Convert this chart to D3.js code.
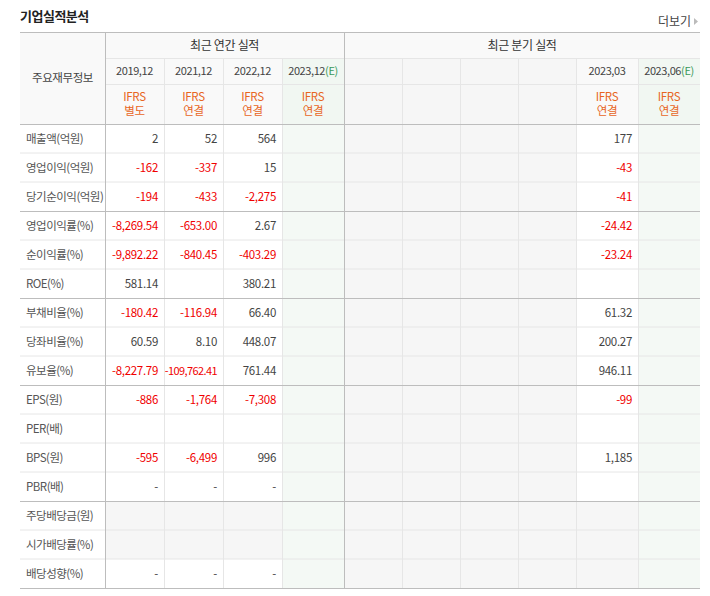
<!DOCTYPE html>
<html><head><meta charset="utf-8">
<script src="https://cdn.jsdelivr.net/npm/d3@7"></script>
<style>body{margin:0;background:#fff;font-family:"Noto Sans CJK KR","Noto Sans",sans-serif}</style>
</head><body><svg id="c" width="710" height="596"></svg>
<script>
const rowLabels=["매출액(억원)","영업이익(억원)","당기순이익(억원)","영업이익률(%)","순이익률(%)","ROE(%)","부채비율(%)","당좌비율(%)","유보율(%)","EPS(원)","PER(배)","BPS(원)","PBR(배)","주당배당금(원)","시가배당률(%)","배당성향(%)"];
const periods=["2019.12","2021.12","2022.12","2023.12(E)","","","","","2023.03","2023.06(E)"];
const accounting=["IFRS\n별도","IFRS\n연결","IFRS\n연결","IFRS\n연결","","","","","IFRS\n연결","IFRS\n연결"];
const v2019=["2","-162","-194","-8,269.54","-9,892.22","581.14","-180.42","60.59","-8,227.79","-886","","-595","-","","","-"];
const v2021=["52","-337","-433","-653.00","-840.45","","-116.94","8.10","-109,762.41","-1,764","","-6,499","-","","","-"];
const v2022=["564","15","-2,275","2.67","-403.29","380.21","66.40","448.07","761.44","-7,308","","996","-","","","-"];
const v2023E=Array(16).fill("");
const vEmpty=Array(16).fill("");
const v202303=["177","-43","-41","-24.42","-23.24","","61.32","200.27","946.11","-99","","1,185","","","",""];
const v202306E=Array(16).fill("");
const colValues=[v2019,v2021,v2022,v2023E,vEmpty,vEmpty,vEmpty,vEmpty,v202303,v202306E];
const colEdges=[20,105,164,223,282,344,402,460,518,576,638,700];
const groupBreaks=[3,6,9,13];

const svg=d3.select("#c");
const font="'Noto Sans CJK KR','Noto Sans',sans-serif";
const y=d3.scaleLinear().domain([0,16]).range([124,588]);
const colType=i=>(i===3||i===9)?"est":(i>=4&&i<=7)?"empty":"data";
const bgFor=(ci,ri)=>{const t=colType(ci);
 if(t==="est")return "#f4f9f5"; if(t==="empty")return "#f6f6f6";
 if(ri===13||ri===14)return "#f6f6f6";
 if(ci===8&&ri===15)return "#f6f6f6";
 return "#fff";};

svg.append("text").attr("x",20).attr("y",21).attr("font-family",font).attr("font-size",13).attr("font-weight","bold").attr("fill","#222").attr("letter-spacing",-0.5).text("기업실적분석");
svg.append("text").attr("x",691).attr("y",26).attr("text-anchor","end").attr("font-family",font).attr("font-size",12).attr("fill","#444").text("더보기");
svg.append("path").attr("d","M694,18 L698,21.5 L694,25 Z").attr("fill","#bbb");

svg.append("rect").attr("x",20).attr("y",32).attr("width",680).attr("height",92).attr("fill","#f9f9f9");
colValues.forEach((c,ci)=>{const t=colType(ci);
 if(t!=="data")svg.append("rect").attr("x",colEdges[ci+1]).attr("y",58).attr("width",colEdges[ci+2]-colEdges[ci+1]).attr("height",66).attr("fill",t==="est"?"#f1f7f2":"#f6f6f6");});
colValues.forEach((vals,ci)=>{
 rowLabels.forEach((r,ri)=>{
  svg.append("rect").attr("x",colEdges[ci+1]).attr("y",y(ri)).attr("width",colEdges[ci+2]-colEdges[ci+1]).attr("height",y(ri+1)-y(ri)).attr("fill",bgFor(ci,ri));
 });
});
const L="#e6e6e6",D="#bdbdbd";
rowLabels.forEach((r,ri)=>{ if(ri>0&&!groupBreaks.includes(ri))
 svg.append("line").attr("x1",20).attr("x2",700).attr("y1",y(ri)).attr("y2",y(ri)).attr("stroke",L);});
svg.append("line").attr("x1",105).attr("x2",700).attr("y1",58.5).attr("y2",58.5).attr("stroke",L);
svg.append("line").attr("x1",105).attr("x2",700).attr("y1",84.5).attr("y2",84.5).attr("stroke",L);
colEdges.slice(2,-1).forEach(x=>{ if(x!==344)
 svg.append("line").attr("x1",x+.5).attr("x2",x+.5).attr("y1",58).attr("y2",588).attr("stroke",L);});
groupBreaks.forEach(ri=>svg.append("line").attr("x1",20).attr("x2",700).attr("y1",y(ri)+.5).attr("y2",y(ri)+.5).attr("stroke",D));
[32,124,588].forEach(yy=>svg.append("line").attr("x1",20).attr("x2",700).attr("y1",yy+.5).attr("y2",yy+.5).attr("stroke",D));
[105,344].forEach(x=>svg.append("line").attr("x1",x+.5).attr("x2",x+.5).attr("y1",32).attr("y2",588).attr("stroke",D));

const T=(x,yy,s,anchor,fill,size,ls)=>svg.append("text").attr("x",x).attr("y",yy).attr("text-anchor",anchor).attr("font-family",font).attr("font-size",size||12).attr("letter-spacing",ls||0).attr("fill",fill).text(s);
T(62.5,82,"주요재무정보","middle","#444",11.5,-0.4);
T(224.5,50,"최근 연간 실적","middle","#333",12,-0.3);
T(522,50,"최근 분기 실적","middle","#333",12,-0.3);
periods.forEach((p,ci)=>{ if(!p)return; const cx=(colEdges[ci+1]+colEdges[ci+2])/2;
 const m=p.match(/^(.*?)(\(E\))?$/);
 const t=svg.append("text").attr("x",cx).attr("y",75).attr("text-anchor","middle").attr("font-family",font).attr("font-size",11).attr("letter-spacing",-0.4).attr("fill","#444");
 t.append("tspan").text(m[1].replace(".",","));
 if(m[2])t.append("tspan").attr("fill","#3a9a5a").text("(E)");
});
accounting.forEach((a,ci)=>{ if(!a)return; const cx=(colEdges[ci+1]+colEdges[ci+2])/2;
 a.split("\n").forEach((s,k)=>T(cx,101+k*14,s,"middle","#e8661e",11.5,-0.3));});
rowLabels.forEach((r,ri)=>T(26,y(ri)+18.5,r,"start","#555",11.5,-0.5));
colValues.forEach((vals,ci)=>vals.forEach((v,ri)=>{ if(!v)return;
 const neg=/^-\d/.test(v);
 T(colEdges[ci+2]-6,y(ri)+18.5,v,"end",neg?"#f00000":"#444",v.length>10?11:11.5,v.length>10?-0.6:-0.3);}));
</script></body></html>
